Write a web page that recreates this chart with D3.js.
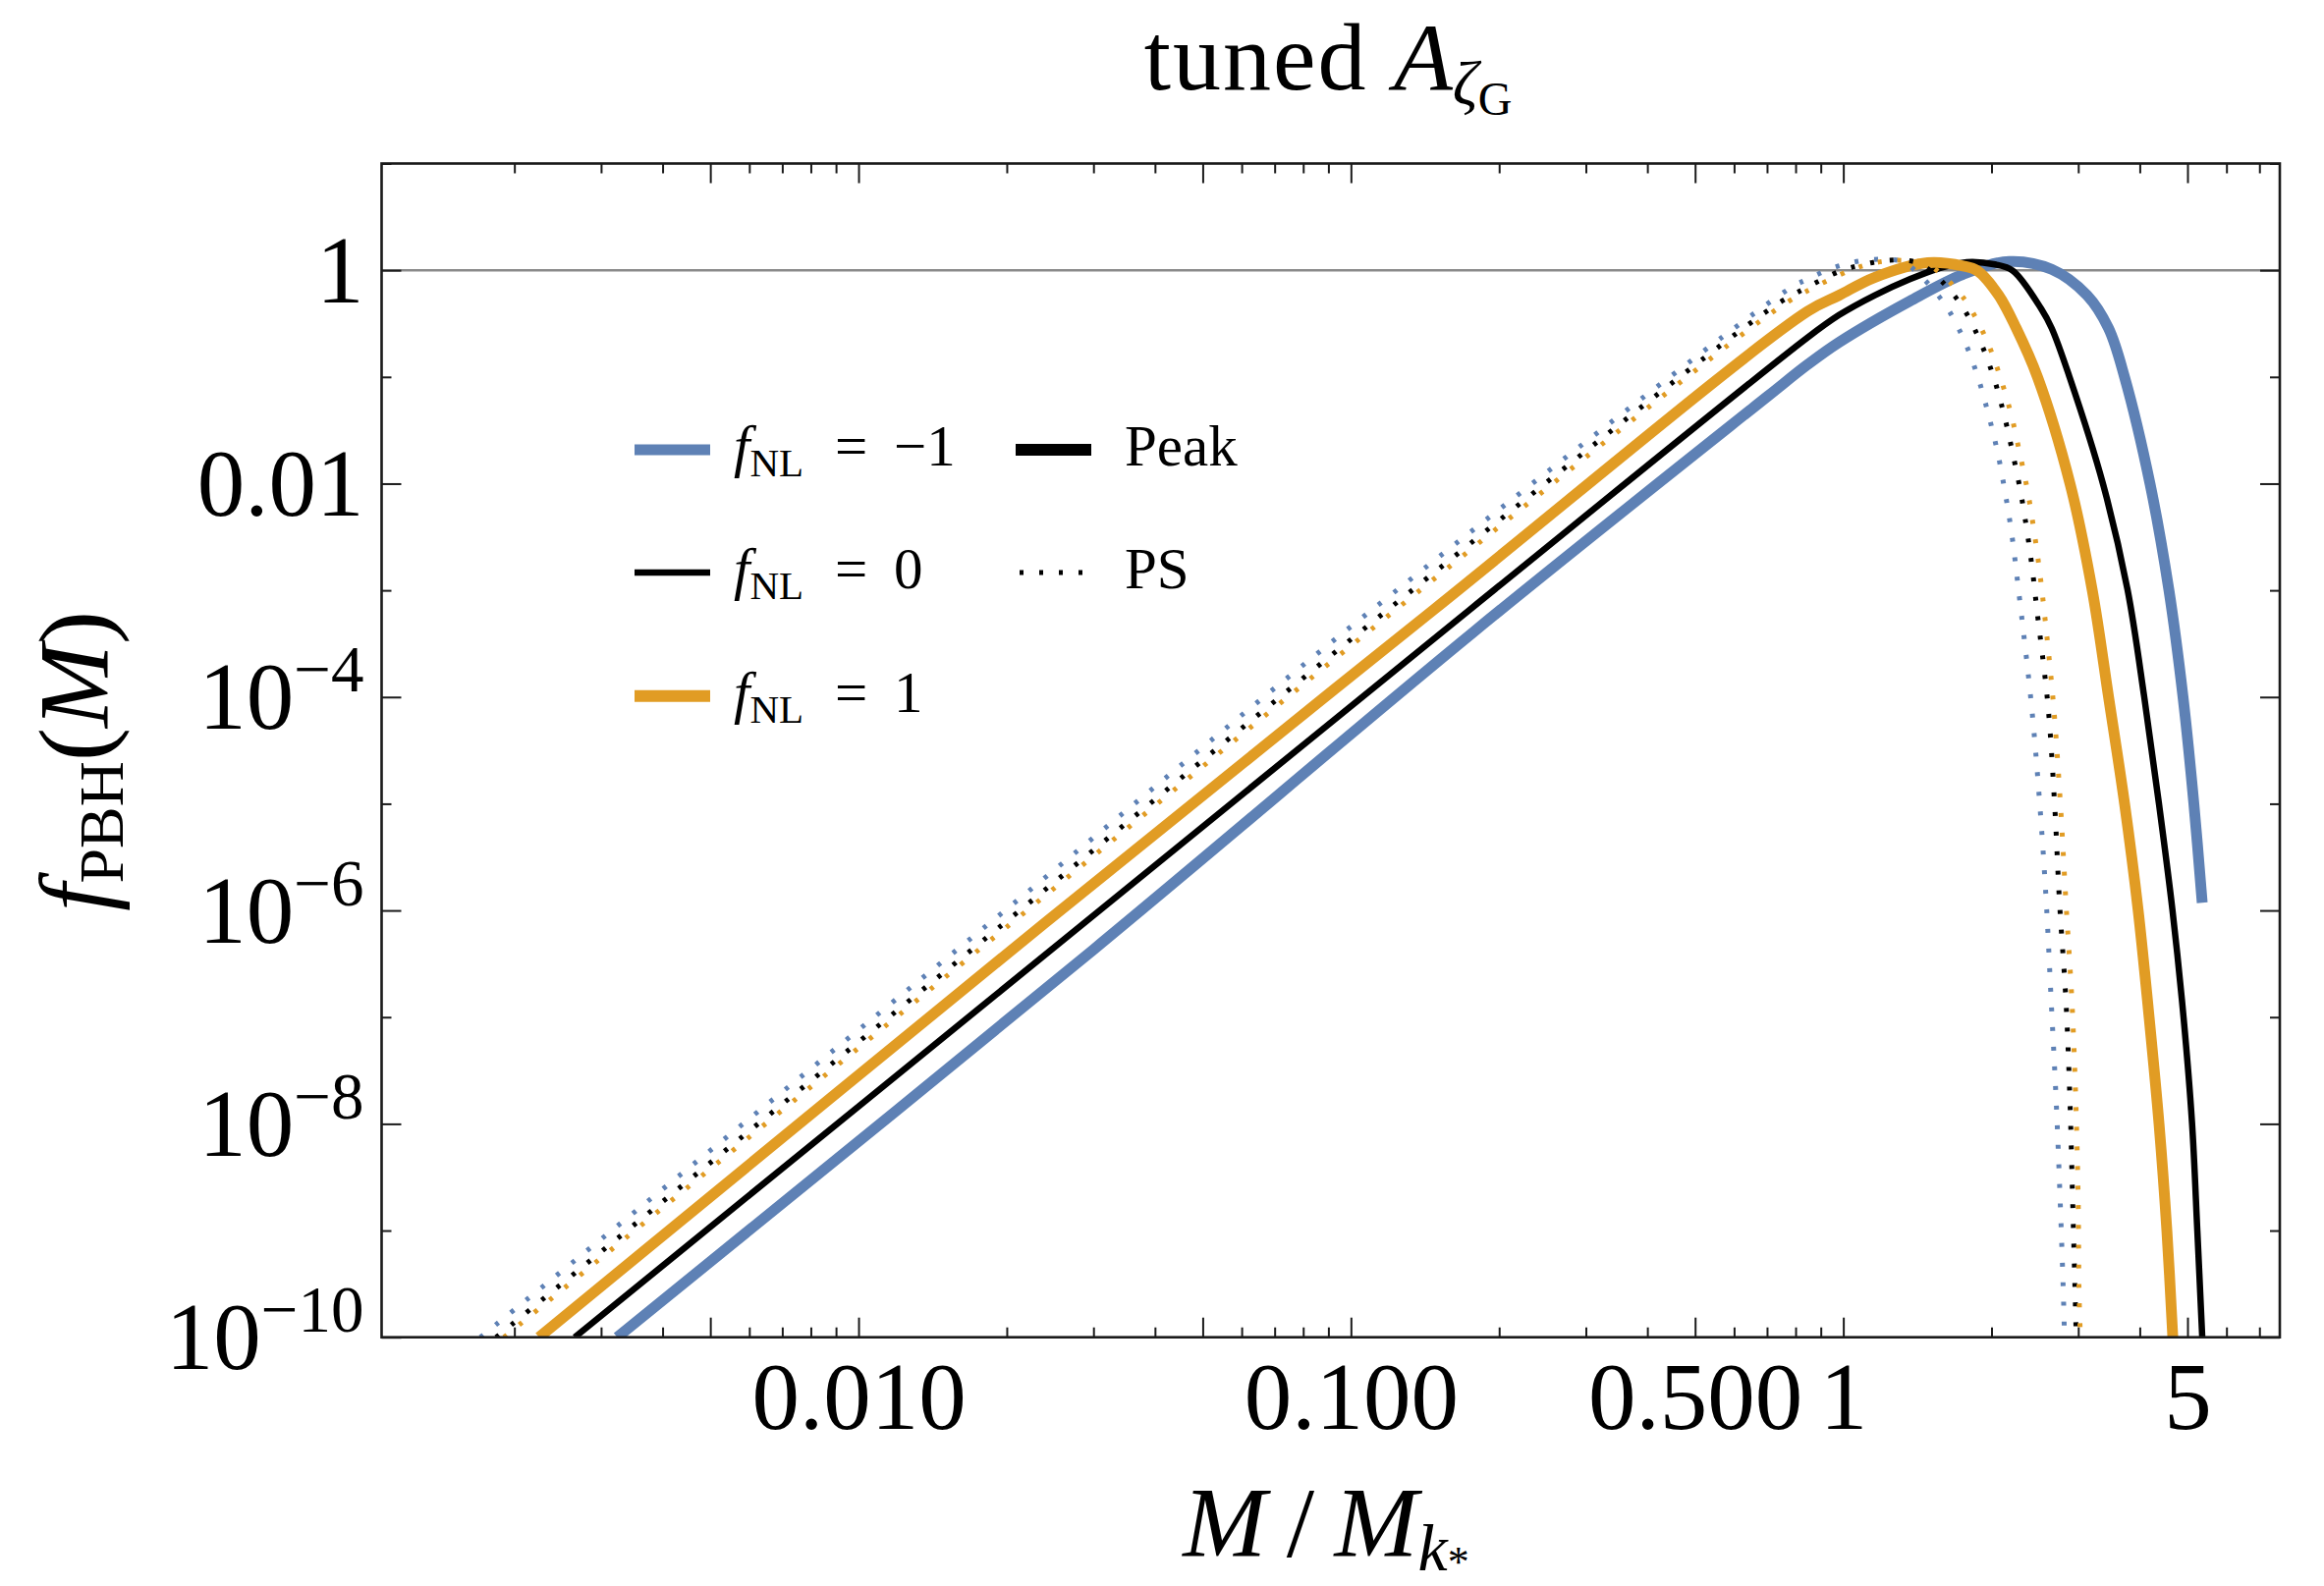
<!DOCTYPE html>
<html><head><meta charset="utf-8">
<script src="https://cdn.jsdelivr.net/npm/d3@7"></script>
<style>
html,body{margin:0;padding:0;background:#fff;}
text{font-family:"Liberation Serif","Times New Roman",serif;fill:#000;}
</style></head><body>
<script>
// ---------- axes definitions ----------
const xDomain = [0.001075, 7.70];
const yDomain = [1e-10, 10];
const xMajorTicks = [0.005, 0.01, 0.05, 0.1, 0.5, 1, 5];
const xMinorTicks = [0.002,0.003,0.004,0.006,0.007,0.008,0.009,0.02,0.03,0.04,0.06,0.07,0.08,0.09,
                     0.2,0.3,0.4,0.6,0.7,0.8,0.9,2,3,4,6,7];
const xTickValues = [0.01, 0.1, 0.5, 1, 5];
const xTickLabels = ["0.010", "0.100", "0.500", "1", "5"];
const yMajorTicks = [1, 1e-2, 1e-4, 1e-6, 1e-8, 1e-10];
const yMinorTicks = [10, 1e-1, 1e-3, 1e-5, 1e-7, 1e-9];
const yTickBase = ["1", "0.01", "10", "10", "10", "10"];
const yTickExp  = ["", "", "\u22124", "\u22126", "\u22128", "\u221210"];

// ---------- data: Peak theory, f_NL = -1, 0, 1 ----------
const mPeakNeg1 = [3.235e-3, 3.001e-2, 0.1773, 0.7035, 0.8453, 0.9800, 1.365, 1.751, 2.173, 2.650, 3.128, 3.456, 3.727, 4.199, 4.583, 4.898, 5.152, 5.357];
const fPeakNeg1 = [1e-10, 4.30e-7, 4.06e-4, 0.0664, 0.1300, 0.2110, 0.514, 0.916, 1.208, 1.019, 0.581, 0.286, 0.0991, 9.86e-3, 1.014e-3, 9.93e-5, 1.00e-5, 1.18e-6];

const mPeak0 = [2.652e-3, 2.867e-2, 0.1747, 0.8453, 0.9800, 1.157, 1.365, 1.559, 1.781, 2.032, 2.208, 2.522, 2.650, 2.882, 3.370, 3.778, 4.086, 4.377, 4.661, 4.910, 5.109, 5.236, 5.358];
const fPeak0 = [1e-10, 7.57e-7, 6.64e-4, 0.2333, 0.380, 0.581, 0.824, 1.035, 1.191, 1.132, 0.991, 0.4365, 0.286, 0.0991, 9.86e-3, 1.014e-3, 9.93e-5, 9.93e-6, 1.007e-6, 9.89e-8, 1.005e-8, 9.98e-10, 1e-10];

const mPeak1 = [2.244e-3, 2.385e-2, 0.1476, 0.8453, 0.9800, 1.157, 1.484, 1.751, 1.871, 2.068, 2.245, 2.481, 2.889, 3.202, 3.458, 3.727, 3.970, 4.180, 4.377, 4.541, 4.669];
const fPeak1 = [1e-10, 7.57e-7, 6.64e-4, 0.410, 0.581, 0.855, 1.175, 1.096, 0.991, 0.583, 0.286, 0.0991, 9.86e-3, 1.014e-3, 9.93e-5, 9.93e-6, 1.007e-6, 9.89e-8, 1.005e-8, 9.98e-10, 1e-10];

// ---------- data: PS (Press-Schechter), f_NL = -1, 0, 1 ----------
const mPSNeg1 = [1.706e-3, 1.825e-2, 0.1086, 0.7807, 0.8469, 0.9202, 1.005, 1.097, 1.209, 1.320, 1.435, 1.612, 1.760, 1.877, 1.973, 2.060, 2.130, 2.194, 2.269, 2.412, 2.507, 2.584, 2.644, 2.706, 2.756, 2.800, 2.813];
const fPSNeg1 = [1e-10, 7.29e-7, 6.19e-4, 0.6815, 0.8246, 0.9854, 1.133, 1.233, 1.265, 1.199, 0.8864, 0.470, 0.2203, 0.0991, 0.0438, 0.01914, 8.39e-3, 3.60e-3, 1.014e-3, 8.18e-5, 9.72e-6, 1.183e-6, 1.406e-7, 1.656e-8, 2.01e-9, 2.37e-10, 1e-10];

const mPS0 = [1.836e-3, 1.955e-2, 0.1169, 0.7152, 0.8372, 0.9881, 1.079, 1.192, 1.295, 1.414, 1.533, 1.737, 1.893, 2.020, 2.122, 2.209, 2.291, 2.361, 2.421, 2.472, 2.605, 2.687, 2.749, 2.833, 2.886, 2.922, 2.958, 2.972];
const fPS0 = [1e-10, 7.29e-7, 6.19e-4, 0.4436, 0.6776, 0.9863, 1.109, 1.219, 1.245, 1.175, 0.916, 0.470, 0.2203, 0.0991, 0.0438, 0.01914, 8.39e-3, 3.60e-3, 1.560e-3, 6.68e-4, 8.18e-5, 9.72e-6, 1.183e-6, 1.406e-7, 1.656e-8, 2.01e-9, 2.37e-10, 1e-10];

const mPS1 = [1.905e-3, 2.022e-2, 0.1209, 0.7391, 0.8651, 1.027, 1.116, 1.220, 1.332, 1.467, 1.594, 1.702, 1.796, 1.956, 2.084, 2.194, 2.283, 2.369, 2.440, 2.502, 2.556, 2.674, 2.761, 2.833, 2.913, 2.966, 2.999, 3.013, 3.031];
const fPS1 = [1e-10, 7.29e-7, 6.11e-4, 0.4436, 0.6776, 0.9863, 1.127, 1.219, 1.233, 1.161, 0.891, 0.653, 0.470, 0.2203, 0.0991, 0.0438, 0.01914, 8.39e-3, 3.60e-3, 1.560e-3, 6.68e-4, 8.18e-5, 9.72e-6, 1.183e-6, 1.406e-7, 1.656e-8, 2.01e-9, 2.37e-10, 1e-10];

const legendLabels = ["\u22121", "0", "1"];

// ---------- drawing ----------
const W = 2366, H = 1615;
const L = 388.5, R = 2321, T = 166.5, B = 1361.7;
const BLUE = "#5E81B5", ORANGE = "#E19C24", BLACK = "#000000";
const FRAME = "#1a1a1a";

const svg = d3.select("body").append("svg").attr("width", W).attr("height", H)
  .style("display","block");

const x = d3.scaleLog().domain(xDomain).range([L, R]);
const y = d3.scaleLog().domain(yDomain).range([B, T]);

svg.append("defs").append("clipPath").attr("id","plotclip")
  .append("rect").attr("x", L).attr("y", T).attr("width", R-L).attr("height", B-T);

// reference line at f = 1
svg.append("line").attr("x1", L).attr("x2", R).attr("y1", y(1)).attr("y2", y(1))
  .attr("stroke", "#8a8a8a").attr("stroke-width", 2.5);

const zip = (m, f) => m.map((v,i) => [v, f[i]]);
const line = d3.line().x(d => x(d[0])).y(d => y(d[1])).curve(d3.curveCatmullRom.alpha(0.5));

const series = [
  {d: zip(mPeakNeg1, fPeakNeg1), c: BLUE,   w: 11,  dash: null},
  {d: zip(mPeak0,    fPeak0),    c: BLACK,  w: 6.5, dash: null},
  {d: zip(mPeak1,    fPeak1),    c: ORANGE, w: 11,  dash: null},
  {d: zip(mPSNeg1,   fPSNeg1),   c: BLUE,   w: 5,   dash: "4,16"},
  {d: zip(mPS0,      fPS0),      c: BLACK,  w: 5,   dash: "4,16"},
  {d: zip(mPS1,      fPS1),      c: ORANGE, w: 5,   dash: "4,16"}
];
const gCurves = svg.append("g").attr("clip-path", "url(#plotclip)");
series.forEach(s => {
  gCurves.append("path").datum(s.d).attr("d", line)
    .attr("fill","none").attr("stroke", s.c).attr("stroke-width", s.w)
    .attr("stroke-linejoin","round")
    .attr("stroke-dasharray", s.dash);
});

// ---------- axes ----------
function styleAxis(g) {
  g.select(".domain").remove();
  g.selectAll(".tick line").attr("stroke", FRAME).attr("stroke-width", 2);
}
// bottom
const gxMaj = svg.append("g").attr("transform", `translate(0,${B})`)
  .call(d3.axisBottom(x).tickValues(xMajorTicks).tickSize(-20)
    .tickFormat(d => { const i = xTickValues.indexOf(d); return i >= 0 ? xTickLabels[i] : ""; }));
styleAxis(gxMaj);
gxMaj.selectAll(".tick text").attr("y", 0).attr("dy", 93).attr("font-size", 97)
  .style("font-family", '"Liberation Serif", serif').attr("fill", "#000");
const gxMin = svg.append("g").attr("transform", `translate(0,${B})`)
  .call(d3.axisBottom(x).tickValues(xMinorTicks).tickSize(-10).tickFormat(""));
styleAxis(gxMin);
// top
const gtMaj = svg.append("g").attr("transform", `translate(0,${T})`)
  .call(d3.axisTop(x).tickValues(xMajorTicks).tickSize(-20).tickFormat(""));
styleAxis(gtMaj);
const gtMin = svg.append("g").attr("transform", `translate(0,${T})`)
  .call(d3.axisTop(x).tickValues(xMinorTicks).tickSize(-10).tickFormat(""));
styleAxis(gtMin);
// left
const gyMaj = svg.append("g").attr("transform", `translate(${L},0)`)
  .call(d3.axisLeft(y).tickValues(yMajorTicks).tickSize(-20).tickFormat(""));
styleAxis(gyMaj);
gyMaj.selectAll(".tick").each(function(d, i) {
  const t = d3.select(this).append("text").attr("x", -18).attr("y", 0).attr("dy", 32)
    .attr("text-anchor", "end").attr("font-size", 97).attr("fill", "#000");
  t.append("tspan").text(yTickBase[i]);
  if (yTickExp[i]) t.append("tspan").attr("font-size", 67).attr("dy", -38).text(yTickExp[i]);
});
const gyMin = svg.append("g").attr("transform", `translate(${L},0)`)
  .call(d3.axisLeft(y).tickValues(yMinorTicks).tickSize(-10).tickFormat(""));
styleAxis(gyMin);
// right
const grMaj = svg.append("g").attr("transform", `translate(${R},0)`)
  .call(d3.axisRight(y).tickValues(yMajorTicks).tickSize(-20).tickFormat(""));
styleAxis(grMaj);
const grMin = svg.append("g").attr("transform", `translate(${R},0)`)
  .call(d3.axisRight(y).tickValues(yMinorTicks).tickSize(-10).tickFormat(""));
styleAxis(grMin);

// frame
svg.append("rect").attr("x", L).attr("y", T).attr("width", R-L).attr("height", B-T)
  .attr("fill","none").attr("stroke", FRAME).attr("stroke-width", 2.6);

// ---------- title ----------
const title = svg.append("text").attr("x", 1352).attr("y", 91).attr("text-anchor","middle")
  .attr("font-size", 98);
title.append("tspan").attr("letter-spacing", 2).text("tuned ");
title.append("tspan").attr("font-style","italic").text("A");
title.append("tspan").attr("font-style","italic").attr("font-size", 64).attr("dy", 15).text("\u03B6");
title.append("tspan").attr("font-size", 48).attr("dy", 11).text("G");

// x label
const xl = svg.append("text").attr("x", 1350).attr("y", 1585).attr("text-anchor","middle")
  .attr("font-size", 102);
xl.append("tspan").attr("font-style","italic").text("M");
xl.append("tspan").text("\u2009/\u2009");
xl.append("tspan").attr("font-style","italic").text("M");
xl.append("tspan").attr("font-style","italic").attr("font-size", 68).attr("dy", 14).text("k");
xl.append("tspan").attr("font-size", 44).attr("dy", 6).text("*");

// y label
const yl = svg.append("text").attr("transform", "translate(110,775) rotate(-90)")
  .attr("text-anchor","middle").attr("font-size", 102);
yl.append("tspan").attr("font-style","italic").text("f");
yl.append("tspan").attr("font-size", 64).attr("dy", 15).text("PBH");
yl.append("tspan").attr("dy", -15).text("(");
yl.append("tspan").attr("font-style","italic").text("M");
yl.append("tspan").text(")");

// ---------- legend ----------
const legRows = [458, 583, 708.7];
const legColors = [BLUE, BLACK, ORANGE];
const legWidths = [11, 6.5, 12];
const lg = svg.append("g");
legRows.forEach((cy, i) => {
  lg.append("line").attr("x1", 646).attr("x2", 723).attr("y1", cy).attr("y2", cy)
    .attr("stroke", legColors[i]).attr("stroke-width", legWidths[i]);
  const t = lg.append("text").attr("x", 747).attr("y", cy + 16).attr("font-size", 59);
  t.append("tspan").attr("font-style","italic").text("f");
  t.append("tspan").attr("font-size", 41).attr("dy", 11).text("NL");
  t.append("tspan").attr("x", 850).attr("dy", -11).text("=");
  t.append("tspan").attr("x", 910).text(legendLabels[i]);
});
lg.append("line").attr("x1", 1034).attr("x2", 1111).attr("y1", legRows[0]).attr("y2", legRows[0])
  .attr("stroke", BLACK).attr("stroke-width", 12);
lg.append("text").attr("x", 1145).attr("y", legRows[0] + 16).attr("font-size", 59).text("Peak");
lg.append("line").attr("x1", 1038).attr("x2", 1104).attr("y1", legRows[1]).attr("y2", legRows[1])
  .attr("stroke", BLACK).attr("stroke-width", 5).attr("stroke-dasharray", "4,16");
lg.append("text").attr("x", 1145).attr("y", legRows[1] + 16).attr("font-size", 59).text("PS");
</script>
</body></html>
